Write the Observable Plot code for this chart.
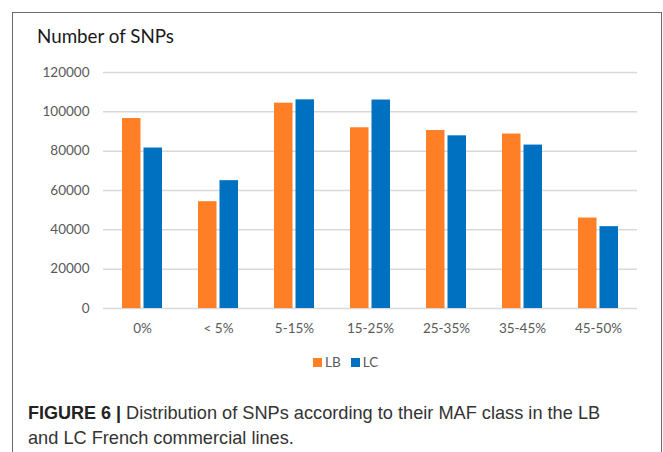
<!DOCTYPE html>
<html>
<head>
<meta charset="utf-8">
<script src="https://cdn.jsdelivr.net/npm/d3@7"></script>
<script src="https://cdn.jsdelivr.net/npm/@observablehq/plot@0.6"></script>
<style>
  html, body { margin: 0; padding: 0; background: #fff; }
  #wrap { position: relative; width: 663px; height: 452px; overflow: hidden; background: #fff; }
  #frame { position: absolute; left: 12px; top: 12px; width: 648px; height: 460px;
           border-left: 1.5px solid #6a6a6a; border-top: 1.5px solid #6a6a6a; border-right: 1.5px solid #6a6a6a; }
  #title { position: absolute; left: 37px; top: 24px; font-family: Lato, sans-serif; font-size: 18.8px; color: #1a1a1a; }
  #chart { position: absolute; left: 0; top: 0; }
  #legend { position: absolute; top: 354px; left: 313px; font-family: Lato, sans-serif; font-size: 13.5px; color: #595959; display: flex; align-items: center; }
  #legend .sw { display: inline-block; width: 9px; height: 9px; margin-right: 3px; }
  #legend .item { display: flex; align-items: center; margin-right: 10px; }
  #caption { position: absolute; left: 28px; top: 401px; width: 620px; font-family: "Liberation Sans", Arial, sans-serif; font-size: 18.2px; line-height: 25px; color: #333; white-space: nowrap; }
  #caption b { color: #222; font-size: 18px; margin-right: 5px; }
</style>
</head>
<body>
<div id="wrap">
  <div id="frame"></div>
  <div id="chart"></div>
  <div id="title">Number of SNPs</div>
  <div id="legend"></div>
  <div id="caption"><b>FIGURE 6 |</b><span>Distribution of SNPs according to their MAF class in the LB</span><br><span>and LC French commercial lines.</span></div>
</div>
<script>
const categories = ["0%", "< 5%", "5-15%", "15-25%", "25-35%", "35-45%", "45-50%"];
const lbValues = [96600, 54300, 104400, 91900, 90500, 88700, 46000];
const lcValues = [81600, 65000, 106100, 106000, 87800, 83100, 41600];
const yTicks = [0, 20000, 40000, 60000, 80000, 100000, 120000];
const seriesNames = ["LB", "LC"];
const seriesColors = ["#FF7F27", "#0070C0"];

const lbData = categories.map((c, i) => ({category: c, value: lbValues[i]}));
const lcData = categories.map((c, i) => ({category: c, value: lcValues[i]}));

const chart = Plot.plot({
  width: 663,
  height: 345,
  marginLeft: 103,
  marginRight: 26,
  marginTop: 72,
  marginBottom: 37,
  style: {fontFamily: "Lato, sans-serif", fontSize: "13.5px", color: "#595959", background: "transparent"},
  x: {domain: categories, paddingInner: 0.476, paddingOuter: 0.238, label: null},
  y: {domain: [0, 120000], label: null},
  marks: [
    Plot.ruleY(yTicks, {stroke: "#d9d9d9", strokeWidth: 1.5}),
    Plot.barY(lbData, {x: "category", y: "value", fill: seriesColors[0], insetRight: 21.5}),
    Plot.barY(lcData, {x: "category", y: "value", fill: seriesColors[1], insetLeft: 21.5}),
    Plot.axisY({ticks: yTicks, tickSize: 0, tickPadding: 14, tickFormat: d => String(d), fill: "#595959"}),
    Plot.axisX({tickSize: 0, tickPadding: 15, fill: "#595959"})
  ]
});
document.getElementById("chart").appendChild(chart);

const legend = document.getElementById("legend");
seriesNames.forEach((name, i) => {
  const item = document.createElement("span");
  item.className = "item";
  const sw = document.createElement("span");
  sw.className = "sw";
  sw.style.background = seriesColors[i];
  item.appendChild(sw);
  item.appendChild(document.createTextNode(name));
  legend.appendChild(item);
});
</script>
</body>
</html>
